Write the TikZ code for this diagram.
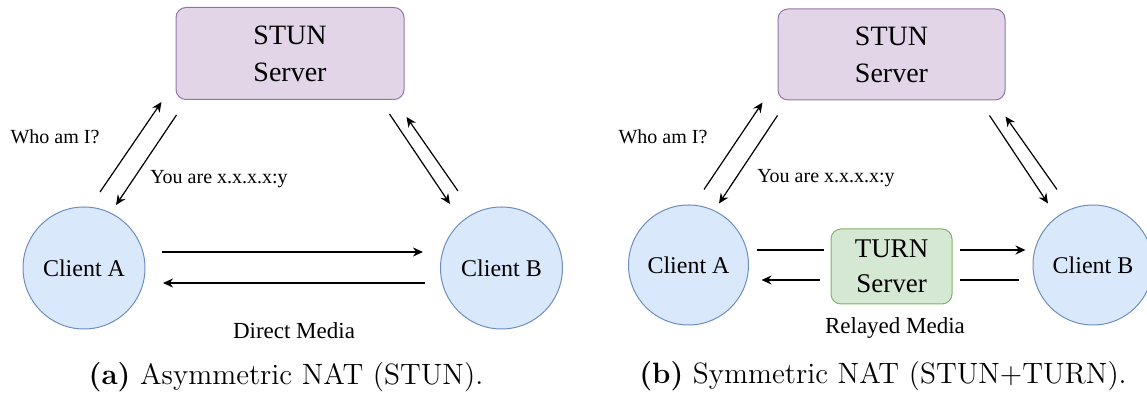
\documentclass[tikz,border=0pt]{standalone}
\usepackage{fontspec}
\newfontfamily\diafont{Liberation Serif}
\usetikzlibrary{arrows.meta,positioning}
\definecolor{stunfill}{HTML}{E1D5E7}
\definecolor{stunline}{HTML}{9673A6}
\definecolor{clifill}{HTML}{DAE8FC}
\definecolor{cliline}{HTML}{6C8EBF}
\definecolor{turnfill}{HTML}{D5E8D4}
\definecolor{turnline}{HTML}{82B366}
\begin{document}
\begin{tikzpicture}[x=0.5pt,y=-0.5pt,
    server/.style={draw=stunline,fill=stunfill,rounded corners=5pt,line width=0.5pt,align=center,inner sep=0pt,minimum width=114pt,minimum height=46pt,font=\diafont\fontsize{14}{18.5}\selectfont},
    relay/.style={draw=turnline,fill=turnfill,rounded corners=5pt,line width=0.5pt,align=center,inner sep=0pt,minimum width=60.5pt,minimum height=37.5pt,font=\diafont\fontsize{13.5}{17.5}\selectfont},
    client/.style={circle,draw=cliline,fill=clifill,line width=0.5pt,minimum size=61pt,inner sep=0pt,font=\diafont\fontsize{12}{14}\selectfont},
    msg/.style={inner sep=0pt,font=\diafont\fontsize{10}{12}\selectfont},
    media/.style={inner sep=0pt,font=\diafont\fontsize{11.5}{14}\selectfont},
    subcap/.style={inner sep=0pt,font=\fontsize{14.7}{17}\selectfont},
    arr/.style={-{Stealth[length=5pt,width=4.5pt]},line width=0.6pt},
    flow/.style={line width=0.8pt}]
    \useasboundingbox (0,0) rectangle (1147,394);
    \node (stun1) [server] at (290,53.5) {STUN\\Server};
    \node (ca1) [client] at (84,268) {Client A};
    \node (cb1) [client] at (501.5,268) {Client B};
    \node (who1) [msg] at (55,137) {Who am I?};
    \node (you1) [msg] at (219,179) {You are x.x.x.x:y};
    \node (dm) [media] at (294,331) {Direct Media};
    \node (capa) [subcap] at (286,377) {\textbf{(a)} Asymmetric NAT (STUN).};
    \draw[arr] ([shift={(16,-14.5)}]ca1.north) -- ([shift={(-14,2)}]stun1.south west);
    \draw[arr] ([shift={(1,15)}]stun1.south west) -- ([shift={(32,-1.5)}]ca1.north);
    \draw[arr] ([shift={(-15,14)}]stun1.south east) -- ([shift={(-51.5,-2.5)}]cb1.north);
    \draw[arr] ([shift={(-43.5,-15.5)}]cb1.north) -- ([shift={(2,17)}]stun1.south east);
    \draw[arr,flow] ([shift={(16.5,-16)}]ca1.east) -- ([shift={(-17,-16)}]cb1.west);
    \draw[arr,flow] ([shift={(-15,15)}]cb1.west) -- ([shift={(17.5,15)}]ca1.east);
    \node (stun2) [server,minimum width=113.5pt,minimum height=45.5pt] at (891.5,54.5) {STUN\\Server};
    \node (ca2) [client,minimum size=60pt] at (688.5,265) {Client A};
    \node (cb2) [client,minimum size=60pt] at (1093,265) {Client B};
    \node (turn) [relay] at (891.5,266.5) {TURN\\Server};
    \node (who2) [msg] at (663,137) {Who am I?};
    \node (you2) [msg] at (826,178) {You are x.x.x.x:y};
    \node (rm) [media] at (895,328) {Relayed Media};
    \node (capb) [subcap] at (883,376) {\textbf{(b)} Symmetric NAT (STUN+TURN).};
    \draw[arr] ([shift={(15.5,-15)}]ca2.north) -- ([shift={(-15,2)}]stun2.south west);
    \draw[arr] ([shift={(0,15)}]stun2.south west) -- ([shift={(30.5,-1)}]ca2.north);
    \draw[arr] ([shift={(-16,15)}]stun2.south east) -- ([shift={(-45,-1)}]cb2.north);
    \draw[arr] ([shift={(-36,-15)}]cb2.north) -- ([shift={(0,16)}]stun2.south east);
    \draw[flow] ([shift={(7.5,-15)}]ca2.east) -- ([shift={(-7,-16.5)}]turn.west);
    \draw[arr,flow] ([shift={(7,-16.5)}]turn.east) -- ([shift={(-7,-15)}]cb2.west);
    \draw[arr,flow] ([shift={(-11,13.5)}]turn.west) -- ([shift={(12.5,15)}]ca2.east);
    \draw[flow] ([shift={(-14,15)}]cb2.west) -- ([shift={(7,13.5)}]turn.east);
\end{tikzpicture}
\end{document}
